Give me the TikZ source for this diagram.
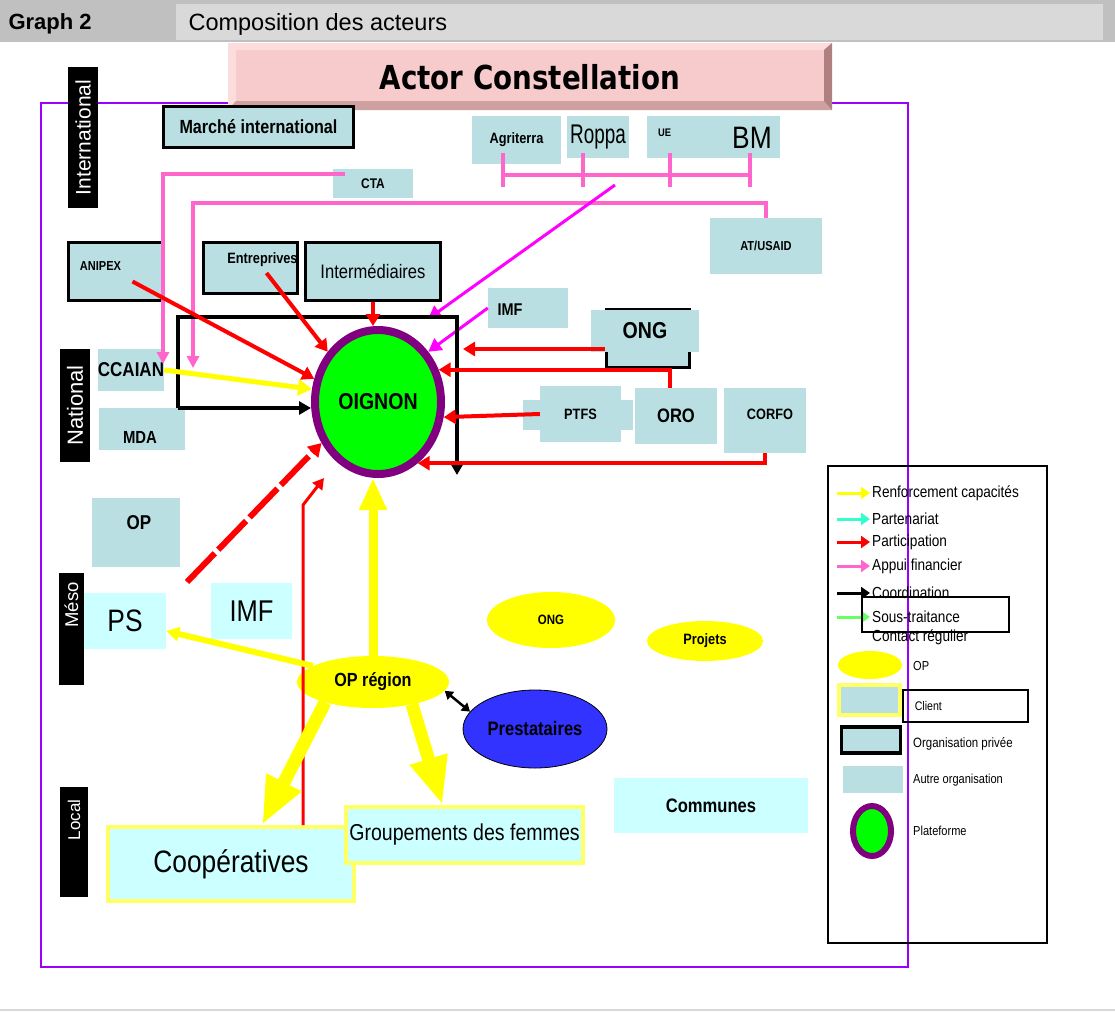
\documentclass[tikz,border=0pt]{standalone}
\usepackage{fontspec}
\setmainfont{Liberation Sans}[FakeStretch=0.85]
\newfontfamily\plainfont{Liberation Sans}
\newfontfamily\tightfont{Liberation Sans}[FakeStretch=0.7]
\newfontfamily\titlefont{DejaVu Sans}[FakeStretch=0.84]
\usepackage{tikz}
\usetikzlibrary{arrows.meta, shapes.geometric}
\tikzset{>=latex}
\definecolor{boxblue}{RGB}{185, 223, 226}
\definecolor{clientcyan}{RGB}{204, 255, 255}
\definecolor{clientyellow}{RGB}{255, 255, 102}
\definecolor{opyellow}{RGB}{255, 255, 0}
\definecolor{pinkline}{RGB}{255, 102, 204}
\definecolor{magline}{RGB}{255, 0, 255}
\definecolor{prestablue}{RGB}{51, 51, 255}
\definecolor{ringpurple}{RGB}{128, 0, 128}
\definecolor{platgreen}{RGB}{0, 255, 0}
\definecolor{framepurple}{RGB}{153, 0, 255}
\definecolor{partcyan}{RGB}{51, 255, 204}
\definecolor{subgreen}{RGB}{102, 255, 102}
\definecolor{hdrgray}{RGB}{192, 192, 192}
\definecolor{hdrlight}{RGB}{217, 217, 217}
\definecolor{titlepink}{RGB}{247, 202, 204}
\definecolor{titletop}{RGB}{252, 220, 220}
\definecolor{titlebottom}{RGB}{207, 160, 160}
\definecolor{titleside}{RGB}{176, 128, 128}
\newcommand\fsz[1]{\fontsize{#1}{#1}\selectfont}
\tikzset{
  orgbox/.style={fill=boxblue, inner sep=0pt},
  privbox/.style={orgbox, draw=black, line width=3pt},
  clientbox/.style={fill=clientcyan, draw=clientyellow, line width=4pt, inner sep=0pt},
  opblob/.style={ellipse, fill=opyellow, inner sep=0pt},
  levelbox/.style={fill=black, text=white, rotate=90, inner sep=0pt},
  partic/.style={red, line width=4pt, -{Triangle[length=12pt,width=14pt]}},
  partthin/.style={red, line width=3pt, -{Triangle[length=11pt,width=12pt]}},
  particdash/.style={red, line width=6pt, dash pattern=on 40pt off 5pt, -{Triangle[length=13pt,width=15pt]}},
  appui/.style={pinkline, line width=3.5pt, -{Triangle[length=12pt,width=12pt]}},
  magarrow/.style={magline, line width=3pt, -{Triangle[length=13pt,width=14pt]}},
  coord/.style={black, line width=4pt, -{Triangle[length=12pt,width=13pt]}},
  renf/.style={opyellow, line width=5pt, -{Triangle[length=14pt,width=16pt]}},
  duo/.style={black, line width=2.5pt, {Triangle[length=8pt,width=10pt]}-{Triangle[length=8pt,width=10pt]}}
}
\begin{document}
\begin{tikzpicture}[x=1pt, y=-1pt]
\fill[white] (0,0) rectangle (1115,1012);
\useasboundingbox (0,0) rectangle (1115,1012);

% Draw header bar
\fill[hdrgray] (0,0) rectangle (1115,42);
\fill[hdrlight] (176,4) rectangle (1103,40);
\node[anchor=west, font=\plainfont\bfseries\fsz{22}] (graphno) at (5,24) {Graph 2};
\node[anchor=west, font=\plainfont\fsz{23.5}] (graphname) at (185,24) {Composition des acteurs};
\draw[hdrlight, line width=1.5pt] (0,1010) -- (1115,1010);

% Draw frame
\draw[framepurple, line width=1.5pt] (41,103) rectangle (908,967);

% Draw title plate
\fill[titlepink] (228,43) rectangle (832,110);
\fill[titletop] (228,43) -- (832,43) -- (824,50) -- (236,50) -- (236,101) -- (228,110) -- cycle;
\fill[titlebottom] (228,110) -- (832,110) -- (824,101) -- (236,101) -- cycle;
\fill[titleside] (832,43) -- (832,110) -- (824,101) -- (824,50) -- cycle;
\node[font=\titlefont\bfseries\fsz{33}] (title) at (530,77) {Actor Constellation};

% Levels
\node[levelbox, minimum width=141, minimum height=30, font=\plainfont\fsz{21}] (lvlint) at (83,137.5) {International};
\node[levelbox, minimum width=113, minimum height=30, font=\plainfont\fsz{22}] (lvlnat) at (75,405.5) {National};
\node[levelbox, minimum width=112, minimum height=25, font=\plainfont\fsz{18.5}] (lvlmeso) at (71.5,629) {\hspace{48pt}Méso};
\node[levelbox, minimum width=110, minimum height=28, font=\plainfont\fsz{17}] (lvllocal) at (74,842) {\hspace{44pt}Local};

% International actors
\node[privbox, minimum width=190, minimum height=41, font=\bfseries\fsz{19}] (marche) at (258.5,127) {Marché international};
\node[orgbox, minimum width=89, minimum height=48, font=\bfseries\fsz{15}] (agriterra) at (516.5,140) {Agriterra};
\node[orgbox, minimum width=62, minimum height=42, font=\tightfont\fsz{27}] (roppa) at (598,137) {Roppa};
\node[orgbox, minimum width=65, minimum height=42, label={[xshift=-15pt, yshift=4pt, font=\bfseries\fsz{11}]center:UE}] (ue) at (679.5,137) {};
\node[orgbox, minimum width=68, minimum height=42, label={[xshift=6pt, yshift=-1pt, font=\fsz{31}]center:BM}] (bm) at (746,137) {};
\node[orgbox, minimum width=80, minimum height=29, font=\bfseries\fsz{14}] (cta) at (373,183.5) {CTA};
\node[orgbox, minimum width=112, minimum height=56, font=\bfseries\fsz{13}] (atusaid) at (766,246) {AT/USAID};

% National actors
\node[privbox, minimum width=94, minimum height=58, label={[xshift=-15pt, yshift=5pt, font=\bfseries\fsz{13}]center:ANIPEX}] (anipex) at (115.5,271.5) {};
\node[privbox, minimum width=94, minimum height=51, label={[xshift=12pt, yshift=8pt, font=\bfseries\fsz{15}]center:Entreprives}] (entreprives) at (250.5,268) {};
\node[privbox, minimum width=135, minimum height=58, font=\fsz{19.5}] (inter) at (373,271.5) {Intermédiaires};
\node[orgbox, minimum width=62, minimum height=42, font=\bfseries\fsz{20}] (ccaian) at (131,370) {CCAIAN};
\node[orgbox, minimum width=86, minimum height=42, label={[xshift=-2pt, yshift=-8pt, font=\bfseries\fsz{17.5}]center:MDA}] (mda) at (142,429) {};
\node[orgbox, minimum width=80, minimum height=40, label={[xshift=-18pt, yshift=-2pt, font=\bfseries\fsz{17}]center:IMF}] (imftop) at (528,308) {};
\node[privbox, minimum width=83, minimum height=58] (ongframe) at (647.5,338) {};
\node[orgbox, minimum width=108, minimum height=42, font=\bfseries\fsz{23}] (ongtop) at (645,331) {ONG};
\node[orgbox, minimum width=110, minimum height=30] (ptfswide) at (578,415) {};
\node[orgbox, minimum width=81, minimum height=56, font=\bfseries\fsz{15}] (ptfs) at (580.5,414) {PTFS};
\node[orgbox, minimum width=82, minimum height=56, font=\bfseries\fsz{19.5}] (oro) at (676,416) {ORO};
\node[orgbox, minimum width=82, minimum height=65, label={[xshift=5pt, yshift=6pt, font=\bfseries\fsz{15}]center:CORFO}] (corfo) at (765,420.5) {};

% Platform
\node[ellipse, draw=ringpurple, line width=8pt, fill=platgreen, minimum width=126, minimum height=144, font=\bfseries\fsz{23}] (oignon) at (378,402) {OIGNON};

% Meso and local actors
\node[orgbox, minimum width=88, minimum height=69, label={[xshift=3pt, yshift=10pt, font=\bfseries\fsz{20}]center:OP}] (opmeso) at (136,532.5) {};
\node[fill=clientcyan, inner sep=0pt, minimum width=82, minimum height=56, font=\fsz{31}] (ps) at (125,621) {PS};
\node[fill=clientcyan, inner sep=0pt, minimum width=81, minimum height=56, font=\fsz{30}] (imfmeso) at (251.5,611) {IMF};
\node[opblob, minimum width=152, minimum height=52, font=\bfseries\fsz{19}] (opregion) at (373,682) {OP région};
\node[opblob, minimum width=128, minimum height=56, font=\bfseries\fsz{13.5}] (ongmeso) at (551,620) {ONG};
\node[opblob, minimum width=116, minimum height=40, font=\bfseries\fsz{15}] (projets) at (705,641) {Projets};
\node[ellipse, fill=prestablue, draw=black, line width=0.8pt, inner sep=0pt, minimum width=144, minimum height=78, font=\bfseries\fsz{19.5}] (prestat) at (535,729) {Prestataires};
\node[clientbox, minimum width=246, minimum height=74, font=\fsz{31}] (coop) at (231,864) {Coopératives};
\node[clientbox, minimum width=237, minimum height=56, font=\fsz{23}] (grp) at (464.5,835) {Groupements des femmes};
\node[fill=clientcyan, inner sep=0pt, minimum width=194, minimum height=55, font=\bfseries\fsz{19.5}] (communes) at (711,805.5) {Communes};

\coordinate (cbnw) at (178,317);
\coordinate (cbne) at (457,317);
\coordinate (cbsw) at (178,408);
\coordinate (cbse) at (457,475);
\coordinate (cbtop) at (428,319);
\coordinate (bracketlink) at (615,185);
\coordinate (ctatip) at (163,364);
\coordinate (usaidtip) at (193,368);
\coordinate (ongtip) at (463,349);
\coordinate (pslink) at (187,582);
\coordinate (coopbend) at (303,505);
\coordinate (cooptip) at (324,478);

% Draw financial support
\draw[pinkline, line width=3.5pt] (503,175) -- (750,175);
\foreach \x in {503,583,670,750} {\draw[pinkline, line width=3.5pt] (\x,153) -- (\x,187);}
\draw[appui] ([xshift=12pt, yshift=9.5pt]cta.west) -| (ctatip);
\draw[appui] (atusaid.north) -- +(0,-15) -| (usaidtip);
\draw[magarrow] (bracketlink) -- (cbtop);
\draw[magarrow] (imftop.west) -- (oignon.45);

% Draw coordination
\draw[coord] (cbsw) -- (cbnw) -- (cbne) -- (cbse);
\draw[coord] (cbsw) -- (cbsw -| oignon.west);

% Draw participation
\draw[partic] ([xshift=17pt, yshift=-10pt]anipex.center) -- (oignon.160);
\draw[partic] ([xshift=16pt, yshift=-5pt]entreprives.center) -- (oignon.135);
\draw[partic] (inter.south) -- (inter.south |- oignon.north);
\draw[partic] ([yshift=-11pt]ongframe.west) -- (ongtip);
\draw[partic] ([xshift=-6pt]oro.north) |- (oignon.28);
\draw[partic] (ptfs.west) -- (oignon.-13);
\draw[partic] (corfo.south) |- (oignon.-57);
\draw[particdash] (pslink) -- (oignon.216);
\draw[partthin] ([xshift=72pt]coop.north) -- (coopbend) -- (cooptip);

% Draw capacity building
\draw[renf] (ccaian.east) -- (oignon.169);
\draw[opyellow, line width=9pt, -{Triangle[length=32pt,width=26pt]}] (opregion.north) -- (opregion.north |- oignon.south);
\draw[opyellow, line width=6pt, -{Triangle[length=13pt,width=14pt]}] (opregion.165) -- ([yshift=-10pt]ps.east);
\draw[opyellow, line width=13pt, -{Triangle[length=48pt,width=36pt]}] (opregion.203) -- ([xshift=31pt]coop.north);
\draw[opyellow, line width=13pt, -{Triangle[length=48pt,width=36pt]}] (opregion.-30) -- ([xshift=-22pt]grp.north);
\draw[duo] (opregion.-7) -- (prestat.165);

% Legend
\draw[line width=1.2pt] (828,466) rectangle (1047,943);
\foreach \y/\col/\txt [count=\i] in {493/opyellow/Renforcement capacités, 519/partcyan/Partenariat, 542/red/Participation, 566/pinkline/Appui financier, 593/black/Coordination, 617/subgreen/Sous-traitance}
{
  \draw[\col, line width=3pt, -{Triangle[length=9pt,width=12pt]}] (837,\y) -- (870,\y);
  \node[anchor=west, inner sep=0pt, font=\fsz{16}] (key\i) at (872,\y) {\txt};
}
\draw[line width=1.5pt] (862,597) rectangle (1009,632);
\node[anchor=west, inner sep=0pt, font=\fsz{16}] (keycontact) at (872,637) {Contact régulier};
\node[opblob, minimum width=64, minimum height=28] (keyop) at (870,665) {};
\node[anchor=west, inner sep=0pt, font=\fsz{13}] (keyoptxt) at (913,666) {OP};
\node[orgbox, draw=clientyellow, line width=4pt, minimum width=61, minimum height=30] (keyclient) at (869.5,700) {};
\node[draw, line width=1.5pt, anchor=west, text width=101pt, inner xsep=12pt, inner ysep=0pt, minimum height=32, font=\fsz{12.5}] (keyclienttxt) at (902,706) {Client};
\node[privbox, line width=3.5pt, minimum width=59, minimum height=26] (keypriv) at (871,740) {};
\node[anchor=west, inner sep=0pt, font=\fsz{13.5}] (keyprivtxt) at (913,744) {Organisation privée};
\node[orgbox, minimum width=60, minimum height=27] (keyother) at (873,779.5) {};
\node[anchor=west, inner sep=0pt, font=\fsz{13}] (keyothertxt) at (913,780) {Autre organisation};
\node[ellipse, draw=ringpurple, line width=6pt, fill=platgreen, minimum width=38, minimum height=50] (keyplat) at (872,831) {};
\node[anchor=west, inner sep=0pt, font=\fsz{13}] (keyplattxt) at (913,831) {Plateforme};
\end{tikzpicture}
\end{document}
